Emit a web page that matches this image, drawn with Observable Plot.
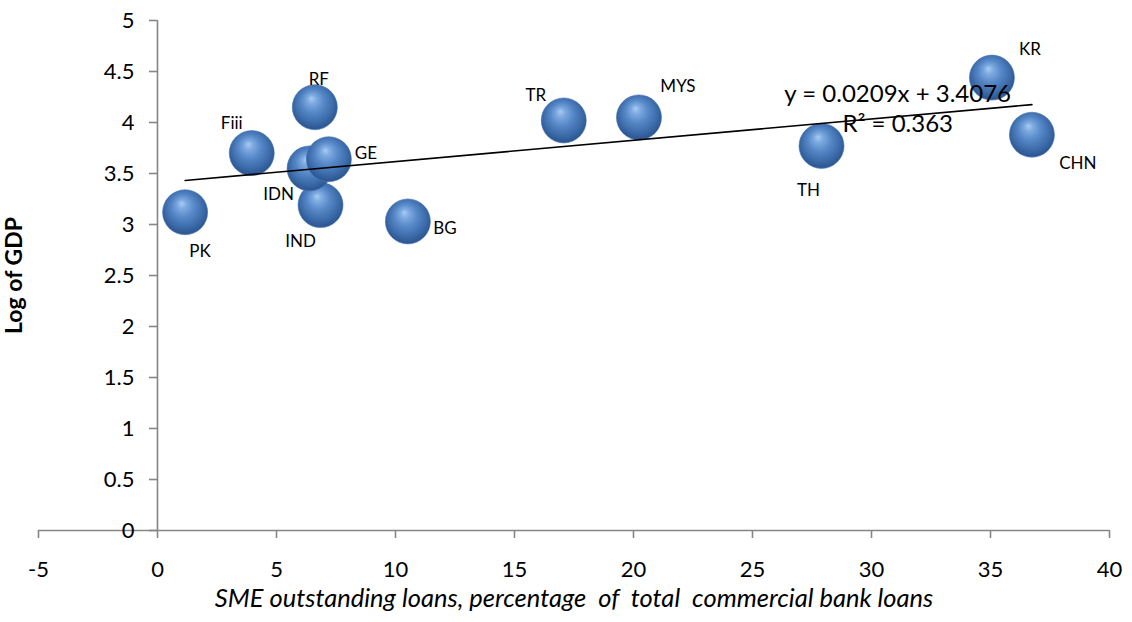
<!DOCTYPE html>
<html><head><meta charset="utf-8">
<script src="https://cdn.jsdelivr.net/npm/d3@7"></script>
<script src="https://cdn.jsdelivr.net/npm/@observablehq/plot@0.6"></script>
<style>
body{margin:0;background:#fff;}
svg text{white-space:pre;}
</style></head><body><div id="chart"></div>
<script>
// Data (drawing order = overlap order)
const countries = ["PK","Fiii","RF","IND","IDN","GE","BG","TR","MYS","TH","KR","CHN"];
const smeShare  = [1.16, 3.96, 6.61, 6.85, 6.39, 7.20, 10.52, 17.07, 20.23, 27.90, 35.06, 36.74];
const logGdp    = [3.12, 3.70, 4.15, 3.19, 3.55, 3.64, 3.03, 4.02, 4.05, 3.77, 4.44, 3.88];
// label placement relative to bubble (px)
const labelDx   = [15, -20, 4, -20, -31, 37, 37, -28, 39, -13, 38, 46];
const labelDy   = [39, -30, -28, 36, 26, -6, 7, -25, -31, 45, -28, 29];
const xTicks = [-5, 0, 5, 10, 15, 20, 25, 30, 35, 40];
const yTicks = [0, 0.5, 1, 1.5, 2, 2.5, 3, 3.5, 4, 4.5, 5];
const slope = 0.0209, intercept = 3.4076, rSquared = 0.363;
const xTitle = "SME outstanding loans, percentage  of  total  commercial bank loans";
const yTitle = "Log of GDP";

const rows = countries.map((c, i) => ({country: c, x: smeShare[i], y: logGdp[i], dx: labelDx[i], dy: labelDy[i]}));
const xMin = d3.min(smeShare), xMax = d3.max(smeShare);
const trend = [xMin, xMax].map(x => ({x, y: intercept + slope * x}));
const eqText = `y = ${slope}x + ${intercept}\nR² = ${rSquared}`;

const W = 1132, H = 622, ML = 38, MR = 23, MT = 20, MB = 92;
const xDomain = [-5, 40];
const yAxisShift = (0 - xDomain[0]) / (xDomain[1] - xDomain[0]) * (W - ML - MR);
const gray = "#868686";

const svg = Plot.plot({
  width: W, height: H,
  marginLeft: ML, marginRight: MR, marginTop: MT, marginBottom: MB,
  style: {fontFamily: "Lato, 'Open Sans', sans-serif", background: "#fff", color: "#000"},
  x: {domain: xDomain, label: null},
  y: {domain: [0, 5], label: null},
  marks: [
    Plot.ruleY([0], {stroke: gray, strokeWidth: 1.6}),
    Plot.ruleX([0], {stroke: gray, strokeWidth: 1.6}),
    Plot.axisX(xTicks, {anchor: "bottom", tickSize: 8, tickPadding: 23, fontSize: 22, stroke: gray, fill: "#000", strokeWidth: 1.6, tickFormat: d => String(d), label: null}),
    Plot.axisY(yTicks, {anchor: "left", dx: yAxisShift, tickSize: 8, tickPadding: 15, fontSize: 22, stroke: gray, fill: "#000", strokeWidth: 1.6, tickFormat: d => String(d), label: null}),
    Plot.dot(rows, {x: "x", y: "y", r: 22.5, fill: "url(#sphere)", stroke: "#4272b0", strokeWidth: 0.6}),
    Plot.line(trend, {x: "x", y: "y", stroke: "#000", strokeWidth: 1.6}),
    ...rows.map(d => Plot.text([d], {x: "x", y: "y", text: "country", dx: d.dx, dy: d.dy, fontSize: 17, fill: "#000"})),
    Plot.text([eqText], {x: 31.1, y: 4.15, text: d => d, fontSize: 24, lineHeight: 1.28, lineAnchor: "middle", fill: "#000"}),
    Plot.text([xTitle], {frameAnchor: "bottom", textAnchor: "middle", dy: 76, fontSize: 25.5, fontStyle: "italic", fill: "#000"}),
    Plot.text([yTitle], {frameAnchor: "left", textAnchor: "middle", dx: -24, rotate: -90, fontSize: 23, fontWeight: "bold", fill: "#000"})
  ]
});

const defs = d3.select(svg).insert("defs", ":first-child");
const grad = defs.append("radialGradient").attr("id", "sphere")
  .attr("cx", "50%").attr("cy", "45%").attr("r", "58%").attr("fx", "42%").attr("fy", "30%");
[["0%", "#a9cbf3"], ["18%", "#7ca9e0"], ["45%", "#5586c6"], ["75%", "#3b6aa8"], ["92%", "#2d5792"], ["100%", "#5080bd"]]
  .forEach(([o, c]) => grad.append("stop").attr("offset", o).attr("stop-color", c));

document.getElementById("chart").appendChild(svg);
</script>
</body></html>
